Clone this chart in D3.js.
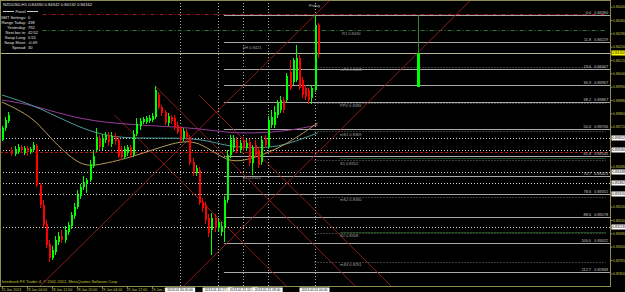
<!DOCTYPE html>
<html>
<head>
<meta charset="utf-8">
<script src="https://cdn.jsdelivr.net/npm/d3@7"></script>
<style>
  body { margin: 0; background: #000; }
  svg { display: block; }
  text { font-family: "Liberation Sans", Arial, sans-serif; }
</style>
</head>
<body>
<div id="chart"></div>
<script>
// NZDUSD H1 bars, 25 Jan 2013 .. 1 Feb 2013 01:00
const opens = [
  0.83640,0.83712,0.83754,0.83580,0.83556,0.83568,0.83598,0.83562,0.83592,0.83568,
  0.83580,0.83604,0.83370,0.83250,0.83136,0.83016,0.82932,0.82968,0.83028,0.83064,
  0.83040,0.83088,0.83124,0.83184,0.83238,0.83304,0.83358,0.83382,0.83400,0.83484,
  0.83580,0.83652,0.83598,0.83640,0.83670,0.83616,0.83664,0.83640,0.83580,0.83538,
  0.83562,0.83598,0.83550,0.83676,0.83724,0.83748,0.83748,0.83754,0.83760,0.83778,
  0.83910,0.83838,0.83808,0.83742,0.83778,0.83772,0.83730,0.83712,0.83652,0.83688,
  0.83658,0.83508,0.83442,0.83460,0.83268,0.83250,0.83172,0.83100,0.83172,0.83112,
  0.83088,0.83118,0.83280,0.83550,0.83592,0.83640,0.83580,0.83640,0.83592,0.83628,
  0.83502,0.83610,0.83580,0.83508,0.83652,0.83598,0.83730,0.83730,0.83790,0.83820,
  0.83880,0.83880,0.84048,0.83988,0.84000,0.84132,0.84000,0.83952,0.83940,0.83892,
  0.83940,0.84330
];
const highs = [
  0.83724,0.83778,0.83808,0.83598,0.83604,0.83616,0.83610,0.83604,0.83604,0.83598,
  0.83628,0.83616,0.83382,0.83280,0.83160,0.83040,0.83004,0.83064,0.83088,0.83100,
  0.83124,0.83148,0.83208,0.83262,0.83340,0.83376,0.83424,0.83412,0.83520,0.83580,
  0.83712,0.83670,0.83676,0.83688,0.83688,0.83688,0.83682,0.83652,0.83604,0.83604,
  0.83610,0.83610,0.83700,0.83772,0.83772,0.83778,0.83784,0.83790,0.83802,0.83964,
  0.83928,0.83850,0.83820,0.83802,0.83790,0.83790,0.83748,0.83724,0.83712,0.83706,
  0.83670,0.83532,0.83490,0.83478,0.83292,0.83268,0.83196,0.83202,0.83196,0.83172,
  0.83148,0.83304,0.83580,0.83670,0.83670,0.83658,0.83640,0.83658,0.83646,0.83646,
  0.83610,0.83640,0.83598,0.83664,0.83670,0.83784,0.83820,0.83844,0.83880,0.83904,
  0.83898,0.84042,0.84120,0.84132,0.84210,0.84150,0.84018,0.83970,0.83952,0.83970,
  0.84390,0.84342
];
const lows = [
  0.83634,0.83694,0.83742,0.83544,0.83544,0.83556,0.83568,0.83550,0.83544,0.83556,
  0.83568,0.83358,0.83232,0.83112,0.82992,0.82908,0.82920,0.82950,0.83010,0.83022,
  0.83022,0.83070,0.83106,0.83166,0.83226,0.83286,0.83340,0.83322,0.83388,0.83472,
  0.83568,0.83580,0.83580,0.83622,0.83604,0.83598,0.83610,0.83532,0.83520,0.83526,
  0.83544,0.83532,0.83538,0.83664,0.83700,0.83736,0.83736,0.83742,0.83748,0.83766,
  0.83826,0.83784,0.83730,0.83724,0.83736,0.83700,0.83676,0.83628,0.83634,0.83640,
  0.83490,0.83424,0.83424,0.83250,0.83208,0.83136,0.83058,0.82950,0.83088,0.83088,
  0.83064,0.83028,0.83262,0.83532,0.83568,0.83562,0.83562,0.83574,0.83574,0.83484,
  0.83430,0.83532,0.83472,0.83490,0.83592,0.83586,0.83712,0.83712,0.83772,0.83802,
  0.83802,0.83862,0.83940,0.83970,0.83988,0.83940,0.83892,0.83880,0.83856,0.83856,
  0.83928,0.84132
];
const closes = [
  0.83712,0.83760,0.83790,0.83556,0.83586,0.83598,0.83580,0.83592,0.83568,0.83586,
  0.83610,0.83370,0.83250,0.83130,0.83010,0.82932,0.82980,0.83040,0.83064,0.83040,
  0.83100,0.83130,0.83190,0.83238,0.83310,0.83358,0.83388,0.83400,0.83496,0.83544,
  0.83658,0.83598,0.83652,0.83670,0.83628,0.83664,0.83634,0.83544,0.83538,0.83586,
  0.83598,0.83550,0.83676,0.83736,0.83754,0.83766,0.83772,0.83772,0.83784,0.83940,
  0.83838,0.83802,0.83742,0.83784,0.83754,0.83718,0.83688,0.83640,0.83694,0.83658,
  0.83502,0.83442,0.83472,0.83262,0.83232,0.83160,0.83082,0.83172,0.83112,0.83148,
  0.83124,0.83280,0.83550,0.83640,0.83652,0.83580,0.83622,0.83592,0.83622,0.83502,
  0.83592,0.83550,0.83490,0.83640,0.83610,0.83760,0.83778,0.83808,0.83862,0.83880,
  0.83820,0.84024,0.83952,0.84120,0.84132,0.83952,0.83910,0.83898,0.83880,0.83952,
  0.84330,0.84162
];

// projected daily candle drawn by an indicator: [bar index, open, high, low, close]
const projCandle = [133, 0.83958, 0.84390, 0.83958, 0.84162];

// moving averages, read at a few bar indices
const maPurple = [[0,0.83880],[10,0.83850],[25,0.83760],[42,0.83730],[63,0.83712],[74,0.83676],[90,0.83688],[101,0.83730]];
const maTeal = [[0,0.83910],[10,0.83850],[21,0.83748],[31,0.83670],[42,0.83646],[63,0.83658],[72,0.83598],[83,0.83592],[90,0.83604],[101,0.83682]];
const maTan = [[0,0.83868],[10,0.83778],[15,0.83658],[25,0.83478],[31,0.83490],[42,0.83538],[55,0.83628],[63,0.83640],[72,0.83502],[79,0.83520],[90,0.83598],[101,0.83742]];

// fibonacci retracement
const fibStart = 71;
const fibHigh = 0.84390, fibLow = 0.83022;
const fibLevels = [0, 11.8, 23.6, 30.9, 38.2, 50, 61.8, 70.7, 78.6, 88.6, 100, 112.7];

// pivot levels
const pivotNames = ["mR1", "PPV", "mS1", "S1", "mS2", "S2", "mS3"];
const pivotValues = [0.84081, 0.83864, 0.83691, 0.83518, 0.83301, 0.83084, 0.82911];
const r1Value = 0.84298, dayHigh = 0.84396;
const prevHigh = 0.84210, prevLow = 0.83430;

// horizontal lines with price labels
const hLevels = [0.83652, 0.83580, 0.83448, 0.83382, 0.83316, 0.83118];
const redDashLevel = 0.83568;
const greenLevels = [0.83532, 0.83088];

// vertical lines
const sepIdx = [57, 69, 77, 85, 100];
const sepLabels = ["2013.01.30 05:00", "2013.01.30 17:00", "2013.01.31 01:00", "2013.01.31 09:00", "2013.02.01 00:00"];

// drawn trend lines: [idx1, price1, idx2, price2]
const trendLines = [
  [12, 0.82760, 105, 0.84480],
  [58, 0.82760, 150, 0.84480],
  [49, 0.83964, 113, 0.82764],
  [36, 0.83790, 91, 0.82764],
  [63, 0.83910, 124.5, 0.82764]
];

// axes
const priceTicks = [0.84440,0.84360,0.84280,0.84200,0.84120,0.84040,0.83960,0.83880,0.83800,0.83720,
  0.83640,0.83560,0.83480,0.83400,0.83320,0.83240,0.83160,0.83080,0.83000,0.82920,0.82840];
const timeIdx = [0, 8, 16, 24, 32, 40, 48, 80];
const timeLabels = ["25 Jan 2013","28 Jan 04:00","28 Jan 12:00","28 Jan 20:00","29 Jan 04:00","29 Jan 12:00",
  "29 Jan 20:00","31 Jan 04:00"];

const panelLabels = ["GMT Settings:", "Range Today:", "Yesterday:", "Next bar in:", "Swap Long:", "Swap Short:", "Spread:"];
const panelValues = ["0", "438", "792", "42:52", "0.55", "-0.69", "30"];

const width = 625, height = 292;
const plotW = 610, plotH = 286;
const fmt = d3.format(".5f");

const svg = d3.select("#chart").append("svg")
  .attr("width", width).attr("height", height)
  .style("background", "#000");

svg.append("clipPath").attr("id", "clip")
  .append("rect").attr("x", 0).attr("y", 0).attr("width", plotW).attr("height", plotH);

const x = d3.scaleLinear().domain([0, 101]).range([2, 317.625]);
const y = d3.scaleLinear().domain([0.8448, 0.82764]).range([0, 286]);

const plot = svg.append("g").attr("clip-path", "url(#clip)");

// vertical dotted lines
plot.selectAll(".vsep").data(sepIdx).enter().append("line")
  .attr("x1", d => Math.round(x(d)) + 0.5).attr("x2", d => Math.round(x(d)) + 0.5)
  .attr("y1", 0).attr("y2", plotH)
  .attr("stroke", "#b0b0b0").attr("stroke-dasharray", "1,2");

// white dotted levels
plot.selectAll(".hl").data(hLevels).enter().append("line")
  .attr("x1", 0).attr("x2", plotW)
  .attr("y1", d => Math.round(y(d)) + 0.5).attr("y2", d => Math.round(y(d)) + 0.5)
  .attr("stroke", "#d8d8d8").attr("stroke-dasharray", "1,2");

plot.append("line")
  .attr("x1", 0).attr("x2", plotW)
  .attr("y1", Math.round(y(redDashLevel)) + 0.5).attr("y2", Math.round(y(redDashLevel)) + 0.5)
  .attr("stroke", "#b01010").attr("stroke-dasharray", "3,2");

plot.selectAll(".gl").data(greenLevels).enter().append("line")
  .attr("x1", 340).attr("x2", 606)
  .attr("y1", d => Math.round(y(d)) + 0.5).attr("y2", d => Math.round(y(d)) + 0.5)
  .attr("stroke", "#1e4a1e");

// dash-dot lines: day high and R1
plot.append("line")
  .attr("x1", x(13)).attr("x2", 606)
  .attr("y1", Math.round(y(dayHigh)) + 0.5).attr("y2", Math.round(y(dayHigh)) + 0.5)
  .attr("stroke", "#a01818").attr("stroke-dasharray", "4,2,1,2");
plot.append("line")
  .attr("x1", x(13)).attr("x2", 606)
  .attr("y1", Math.round(y(r1Value)) + 0.5).attr("y2", Math.round(y(r1Value)) + 0.5)
  .attr("stroke", "#2a7a2a").attr("stroke-dasharray", "4,2,1,2");

// pivot dotted lines (today)
plot.selectAll(".pv").data(pivotValues).enter().append("line")
  .attr("x1", x(100)).attr("x2", 606)
  .attr("y1", d => Math.round(y(d)) + 0.5).attr("y2", d => Math.round(y(d)) + 0.5)
  .attr("stroke", "#777").attr("stroke-dasharray", "1,2");

// fibonacci lines
const fibPrice = lv => fibHigh - (fibHigh - fibLow) * lv / 100;
plot.selectAll(".fib").data(fibLevels).enter().append("line")
  .attr("x1", x(fibStart)).attr("x2", plotW)
  .attr("y1", d => Math.round(y(fibPrice(d))) + 0.5).attr("y2", d => Math.round(y(fibPrice(d))) + 0.5)
  .attr("stroke", "#a8a8a8");

// bid line
plot.append("line")
  .attr("x1", 0).attr("x2", plotW)
  .attr("y1", Math.round(y(closes[101])) + 0.5).attr("y2", Math.round(y(closes[101])) + 0.5)
  .attr("stroke", "#b4b494");

// trend lines
plot.selectAll(".tl").data(trendLines).enter().append("line")
  .attr("x1", d => x(d[0])).attr("y1", d => y(d[1]))
  .attr("x2", d => x(d[2])).attr("y2", d => y(d[3]))
  .attr("stroke", "#9a1c1c").attr("stroke-width", 0.9);

// moving averages
const maLine = d3.line().x(d => x(d[0])).y(d => y(d[1])).curve(d3.curveBasis);
[[maPurple, "#9a3c9a"], [maTeal, "#4f9a9e"], [maTan, "#b89c5c"]].forEach(([pts, col]) => {
  plot.append("path").datum(pts).attr("fill", "none")
    .attr("stroke", col).attr("stroke-width", 1).attr("d", maLine);
});

// candles
const bars = d3.range(opens.length);
const col = i => closes[i] >= opens[i] ? "#00ff00" : "#ff0000";
const cg = plot.append("g");
cg.selectAll(".wick").data(bars).enter().append("rect")
  .attr("x", i => Math.round(x(i))).attr("width", 1)
  .attr("y", i => y(highs[i])).attr("height", i => Math.max(1, y(lows[i]) - y(highs[i])))
  .attr("fill", col);
cg.selectAll(".body").data(bars).enter().append("rect")
  .attr("x", i => Math.round(x(i))).attr("width", 2)
  .attr("y", i => y(Math.max(opens[i], closes[i])))
  .attr("height", i => Math.max(1, Math.abs(y(opens[i]) - y(closes[i]))))
  .attr("fill", col);

// projected candle
const [pi, po, ph, pl, pc] = projCandle;
plot.append("rect").attr("x", Math.round(x(pi))).attr("width", 1)
  .attr("y", y(ph)).attr("height", y(pl) - y(ph)).attr("fill", "#2a8a2a");
plot.append("rect").attr("x", Math.round(x(pi)) - 1).attr("width", 3)
  .attr("y", y(pc)).attr("height", y(po) - y(pc)).attr("fill", "#00ff00");

// small chart labels
const lbl = plot.append("g").attr("font-size", 4).attr("fill", "#a0a0a0");
lbl.selectAll(".pvl").data(pivotValues).enter().append("text")
  .attr("x", 340).attr("y", d => y(d) + 4.5)
  .text((d, i) => pivotNames[i] + " " + d.toFixed(4));
lbl.append("text").attr("x", 342).attr("y", y(r1Value) + 4.5).text("R1 " + r1Value.toFixed(4));
lbl.append("text").attr("x", 243).attr("y", y(prevHigh) + 3.5).text("pH " + prevHigh.toFixed(4));
lbl.append("text").attr("x", 243).attr("y", y(prevLow) + 3.5).text("pL " + prevLow.toFixed(4));

const fl = plot.append("g").attr("font-size", 3.8).attr("fill", "#c8c8c8").attr("text-anchor", "end");
fl.selectAll(".fl1").data(fibLevels).enter().append("text")
  .attr("x", 591).attr("y", d => y(fibPrice(d)) - 1)
  .text(d => d.toFixed(1));
fl.selectAll(".fl2").data(fibLevels).enter().append("text")
  .attr("x", 608).attr("y", d => y(fibPrice(d)) - 1)
  .text(d => fmt(fibPrice(d)));

plot.append("text").attr("x", x(100)).attr("y", 6.5).attr("text-anchor", "middle")
  .attr("font-size", 4).attr("fill", "#c0c0c0").text("Friday");

// header + panel
svg.append("text").attr("x", 3).attr("y", 6).attr("font-size", 4.2).attr("fill", "#e0e0e0")
  .text("NZDUSD,H1  " + [opens[101], highs[101], lows[101], closes[101]].map(fmt).join(" "));
svg.append("line").attr("x1", 3).attr("x2", 14).attr("y1", 11.5).attr("y2", 11.5).attr("stroke", "#ccc");
svg.append("line").attr("x1", 27).attr("x2", 38).attr("y1", 11.5).attr("y2", 11.5).attr("stroke", "#ccc");
svg.append("text").attr("x", 20.5).attr("y", 13).attr("text-anchor", "middle")
  .attr("font-size", 4).attr("fill", "#e0e0e0").text("Panel");
const pg = svg.append("g").attr("font-size", 4).attr("fill", "#e0e0e0");
pg.selectAll(".pl").data(panelLabels).enter().append("text")
  .attr("x", 26).attr("y", (d, i) => 18.5 + i * 5).attr("text-anchor", "end").text(d => d);
pg.selectAll(".pvv").data(panelValues).enter().append("text")
  .attr("x", 28).attr("y", (d, i) => 18.5 + i * 5).text(d => d);

svg.append("text").attr("x", 2).attr("y", 283).attr("font-size", 4).attr("fill", "#c8c832")
  .text("Interbank FX Trader 4, \u00a9 2001-2012, MetaQuotes Software Corp.");

// frame
svg.append("rect").attr("x", 0.5).attr("y", 0.5).attr("width", plotW).attr("height", plotH)
  .attr("fill", "none").attr("stroke", "#8c8c50");

// price axis (labels hidden where a highlighted box sits on top, as in the terminal)
const boxed = hLevels.concat([closes[101]]);
const visibleTicks = priceTicks.filter(t => boxed.every(v => Math.abs(y(v) - y(t)) > 4.5));
const yAxis = d3.axisRight(y).tickValues(visibleTicks).tickSize(2).tickFormat(fmt);
const ya = svg.append("g").attr("transform", `translate(${plotW + 0.5},0)`).call(yAxis);
ya.select(".domain").remove();
ya.selectAll("line").attr("stroke", "#8c8c50");
ya.selectAll("text").attr("font-size", 3.5).attr("fill", "#c8c850").attr("x", 2.5).attr("dy", "0.35em")
  .style("font-family", "Liberation Sans, Arial, sans-serif");

// highlighted price labels
const boxes = svg.append("g");
const boxLevel = (v, fill) => {
  boxes.append("rect").attr("x", 611.5).attr("y", y(v) - 2.5).attr("width", 13.5).attr("height", 5).attr("fill", fill);
  boxes.append("text").attr("x", 612.2).attr("y", y(v) + 1.3).attr("font-size", 3.5).attr("fill", "#000").text(fmt(v));
};
hLevels.forEach(v => boxLevel(v, "#ffffff"));
boxLevel(closes[101], "#ffff00");

// time axis
const xAxis = d3.axisBottom(x).tickValues(timeIdx).tickSize(2).tickFormat((d, i) => timeLabels[i]);
const xa = svg.append("g").attr("transform", `translate(0,${plotH + 0.5})`).call(xAxis);
xa.select(".domain").remove();
xa.selectAll("line").attr("stroke", "#8c8c50");
xa.selectAll("text").attr("font-size", 3.6).attr("fill", "#c8c850").attr("text-anchor", "start")
  .attr("x", -1).attr("y", 2).attr("dy", "0.8em")
  .style("font-family", "Liberation Sans, Arial, sans-serif");

// vertical line labels on time axis
const tb = svg.append("g");
sepIdx.forEach((d, i) => {
  const cx = x(d);
  tb.append("rect").attr("x", cx - 15).attr("y", 287.5).attr("width", 30).attr("height", 4.5).attr("fill", "#fff");
  tb.append("text").attr("x", cx).attr("y", 291.2).attr("text-anchor", "middle")
    .attr("font-size", 3.3).attr("fill", "#000").text(sepLabels[i]);
});
</script>
</body>
</html>
